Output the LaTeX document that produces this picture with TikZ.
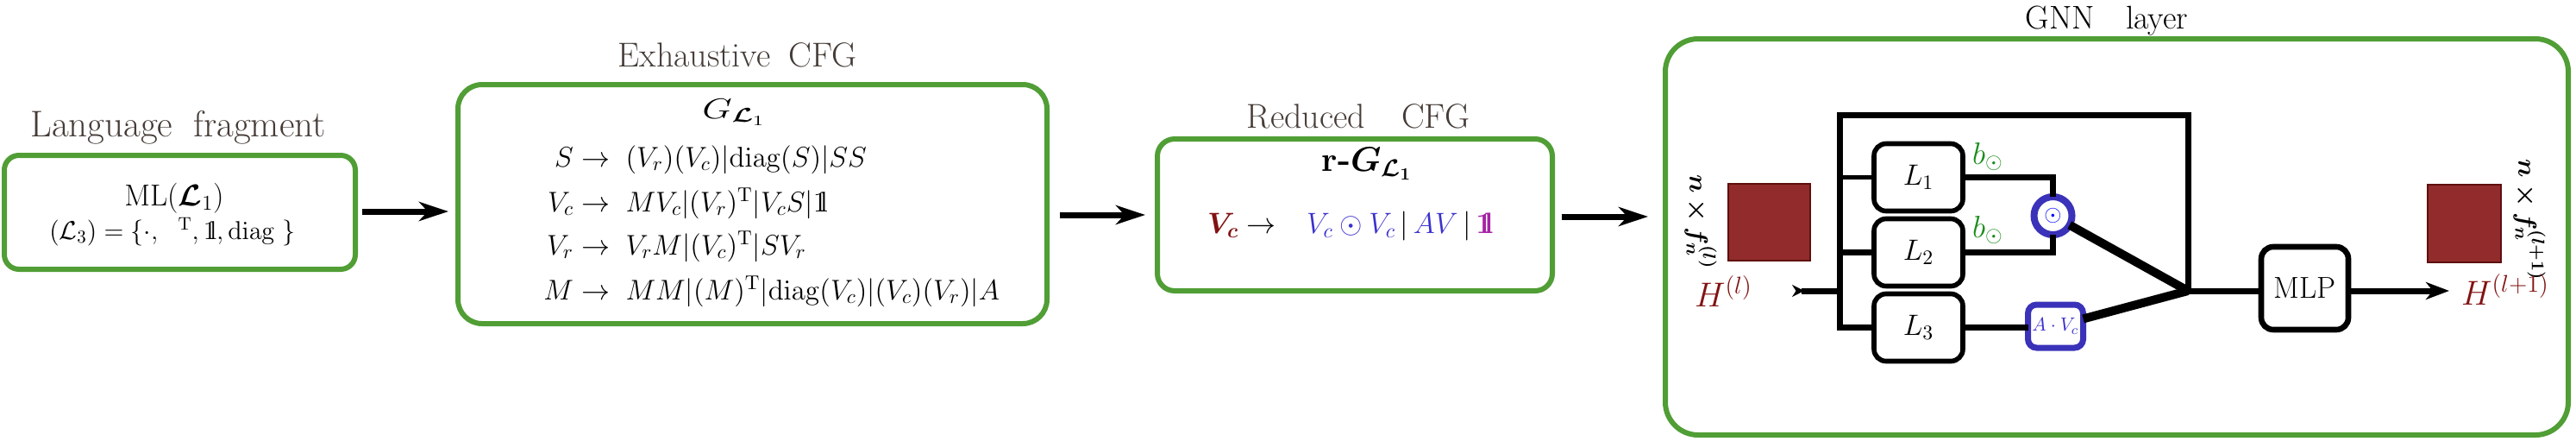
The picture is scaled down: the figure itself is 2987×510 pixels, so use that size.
\RequirePackage{fix-cm}
\documentclass[tikz,border=0pt]{standalone}
\usepackage{amsmath,bm}
\usetikzlibrary{arrows.meta,calc}
\definecolor{cgreen}{RGB}{80,158,53}
\definecolor{cttl}{RGB}{69,60,55}
\definecolor{cdred}{RGB}{130,18,18}
\definecolor{csqfill}{RGB}{146,43,43}
\definecolor{csqdraw}{RGB}{95,15,15}
\definecolor{cblue}{RGB}{58,50,185}
\definecolor{ctblue}{RGB}{60,50,205}
\definecolor{cbgreen}{RGB}{25,140,25}
\definecolor{cpurp}{RGB}{165,35,165}
\newcommand{\oneb}{\mathrm{1\mkern-4.5mu l}}
\newcommand{\cfgrow}[2]{\makebox[16.5pt][r]{$#1$}$\;\rightarrow\;#2$}
\begin{document}
\begin{tikzpicture}[x=0.5pt,y=-0.5pt,
  every node/.style={inner sep=0pt, outer sep=0pt},
  gbox/.style={draw=cgreen, line width=3pt, rounded corners=#1},
  ttl/.style={text=cttl, anchor=base, font=\fontsize{20.5}{24}\selectfont},
  lbox/.style={draw, fill=white, line width=2.8pt, rounded corners=7pt, minimum width=51.5pt, minimum height=39pt, font=\fontsize{17}{20}\selectfont},
  wire/.style={line width=3.5pt},
  bigarrow/.style={line width=3.5pt, -{Stealth[length=17pt,width=11pt,inset=5pt]}},
  sq/.style={fill=csqfill, draw=csqdraw, line width=1pt},
  rowtxt/.style={anchor=base west, font=\fontsize{16.5}{20}\selectfont},
]
\useasboundingbox (0,0) rectangle (2987,510);

% ---------- main boxes ----------
\node[gbox=8.5pt, minimum width=203.5pt, minimum height=66pt] (b1) at (208.5,246) {};
\node[gbox=14pt, minimum width=341.5pt, minimum height=138.5pt] (b2) at (872.5,236.5) {};
\node[gbox=10pt, minimum width=229pt, minimum height=88pt] (b3) at (1571,249) {};
\node[gbox=19pt, minimum width=523.5pt, minimum height=229.5pt] (b4) at (2454.5,274.5) {};

% ---------- titles ----------
\node[ttl, font=\fontsize{21.5}{25}\selectfont] (t1) at (206.5,158) {Language\hspace{12pt}fragment};
\node[ttl, font=\fontsize{20}{24}\selectfont] (t2) at (855,77) {Exhaustive\hspace{10.5pt}CFG};
\node[ttl, font=\fontsize{20}{24}\selectfont] (t3) at (1575,148) {Reduced\hspace{21pt}CFG};
\node[ttl, text=black, font=\fontsize{19}{23}\selectfont] (t4) at (2443,33) {GNN\hspace{18pt}layer};

% ---------- box 1 ----------
\node[anchor=base, font=\fontsize{17.5}{21}\selectfont] (ml) at (202,238) {$\mathrm{ML}(\bm{\mathcal{L}}_1)$};
\node[anchor=base, font=\fontsize{15}{18}\selectfont] (l3) at (200,277) {$(\mathcal{L}_3)=\{\cdot,\ \ {}^{\mathrm{T}},\oneb,\mathrm{diag}\ \}$};

% ---------- box 2 ----------
\node[anchor=base, font=\fontsize{16.5}{20}\selectfont] (g) at (851,137) {\scalebox{1.35}[1]{$G_{\bm{\mathcal{L}}_1}$}};
\node[rowtxt] (r1) at (632,193) {\cfgrow{S}{(V_r)(V_c)|\mathrm{diag}(S)|SS}};
\node[rowtxt] (r2) at (632,245) {\cfgrow{V_c}{MV_c|(V_r)^{\mathrm{T}}|V_cS|\oneb}};
\node[rowtxt] (r3) at (632,295) {\cfgrow{V_r}{V_rM|(V_c)^{\mathrm{T}}|SV_r}};
\node[rowtxt] (r4) at (632,347) {\cfgrow{M}{MM|(M)^{\mathrm{T}}|\mathrm{diag}(V_c)|(V_c)(V_r)|A}};

% ---------- box 3 ----------
\node[anchor=base, font=\fontsize{20}{24}\selectfont\bfseries\boldmath] (rg) at (1585,198) {r-$G_{\mathcal{L}_1}$};
\node[anchor=base west, font=\fontsize{17}{20}\selectfont] (vc) at (1400,270)
  {${\color{cdred}\bm{V_c}}\rightarrow\hspace{13pt}{\color{ctblue}V_c\odot V_c}\,|\,{\color{ctblue}AV}\,|\,{\color{cpurp}\bm{\oneb}}$};

% ---------- arrows between boxes ----------
\coordinate (a1) at (0,245);
\coordinate (a2) at (0,249);
\coordinate (a3) at (0,251);
\draw[bigarrow, shorten <=4pt, shorten >=5.5pt] (b1.east |- a1) -- (b2.west |- a1);
\draw[bigarrow, shorten <=7.5pt, shorten >=7pt] (b2.east |- a2) -- (b3.west |- a2);
\draw[bigarrow, shorten <=5.5pt, shorten >=10pt] (b3.east |- a3) -- (b4.west |- a3);

% ---------- GNN layer ----------
\coordinate (bt) at (2133,133);
\coordinate (J) at (2537,337);
\coordinate (in) at (2078,337);
\coordinate (out) at (2840,337);

\node[sq, minimum width=47.5pt, minimum height=44.5pt] (sqL) at (2051.5,257.5) {};
\node[sq, minimum width=42.5pt, minimum height=45pt] (sqR) at (2857.5,259) {};
\node[rotate=-90, font=\fontsize{15}{18}\selectfont] (dimL) at (1972,257) {$\bm{n\times f_n^{(l)}}$};
\node[rotate=-90, font=\fontsize{15}{18}\selectfont] (dimR) at (2933,255) {$\bm{n\times f_n^{(l+1)}}$};
\node[anchor=base west, text=cdred, font=\fontsize{20}{24}\selectfont] (Hl) at (1965,355) {$H^{(l)}$};
\node[anchor=base west, text=cdred, font=\fontsize{20}{24}\selectfont] (Hl1) at (2854,353) {$H^{(l+1)}$};

\node[lbox] (L1) at (2224.5,205.5) {$L_1$};
\node[lbox] (L2) at (2224.5,292.5) {$L_2$};
\node[lbox] (L3) at (2224.5,379.5) {$L_3$};

\node[circle, draw=cblue, fill=white, line width=4pt, minimum size=22pt, text=blue, font=\fontsize{13}{15}\selectfont] (C) at (2380.5,250) {$\odot$};
\node[draw=cblue, fill=white, line width=3.5pt, rounded corners=5pt, minimum width=32pt, minimum height=25pt, text=ctblue, font=\fontsize{11}{13}\selectfont] (AV) at (2383.5,378) {$A\cdot V_c$};
\node[lbox, line width=3.3pt, minimum width=50.5pt, minimum height=48pt, font=\fontsize{17.5}{21}\selectfont] (MLP) at (2672.5,334) {MLP};

\node[anchor=base west, text=cbgreen, font=\fontsize{18}{21}\selectfont] (bo1) at (2287,190) {$b_{\odot}$};
\node[anchor=base west, text=cbgreen, font=\fontsize{18}{21}\selectfont] (bo2) at (2287,275) {$b_{\odot}$};

\draw[wire] (L3.west) -| (bt) -| (J);
\draw[line width=2.5pt] (L1.west) -- (L1.west -| bt);
\draw[wire] (L2.west) -- (L2.west -| bt);
\draw[wire, {Stealth[reversed,length=7pt,width=7pt]}-] (in) -- (in -| bt);
\draw[wire] (L1.east) -| (C.north);
\draw[wire] (L2.east) -| (C.south);
\draw[wire] (L3.east) -- (L3.east -| AV.west);
\draw[line width=5pt] (C) -- (J);
\draw[line width=5pt] (AV) -- (J);
\draw[wire] (J) -- (J -| MLP.west);
\draw[wire, -{Stealth[length=13.5pt,width=10pt,inset=4pt]}] (J -| MLP.east) -- (out);
\end{tikzpicture}
\end{document}
